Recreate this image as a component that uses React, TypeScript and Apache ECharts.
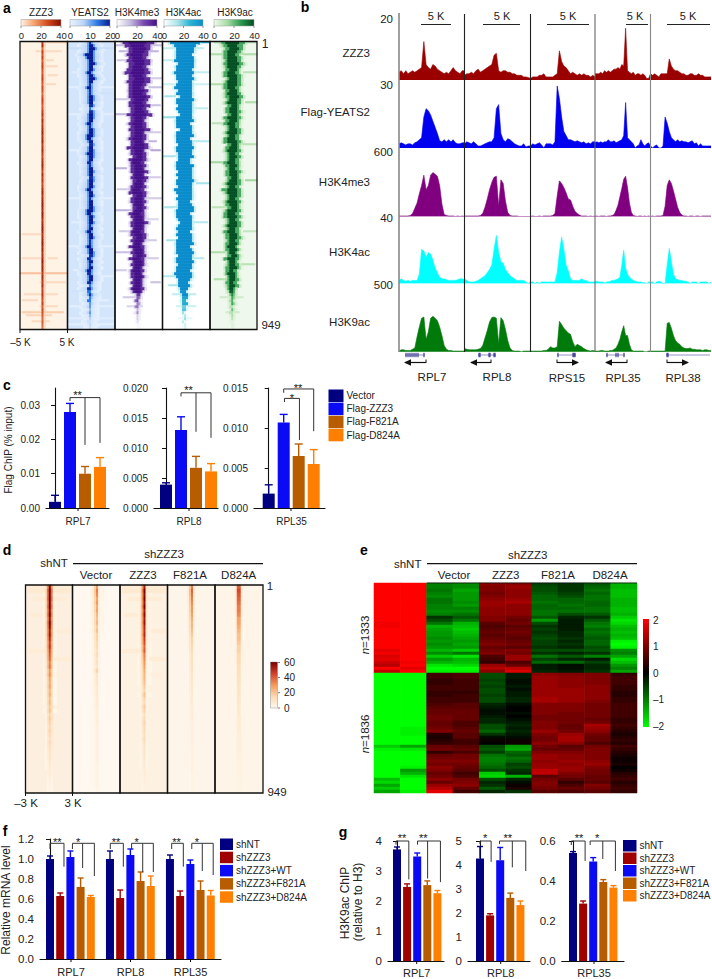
import React, { useEffect, useRef } from "react";
import * as echarts from "echarts";

const FONT = "Liberation Sans, Arial, sans-serif";
const INK = "#222";

// ---------- panel a: per-row half widths of the enrichment core (96 rows, top to bottom)
const aNames = ["ZZZ3", "YEATS2", "H3K4me3", "H3K4ac", "H3K9ac"];
const aScaleTicks = [[0, 20, 40], [0, 10, 20], [0, 20, 40], [0, 20, 40], [0, 20, 40]];
const zzz3Level = [30,34,22,30,26,30,24,28,30,26,24,28,30,26,24,28,26,22,26,30,28,24,26,30,32,28,34,30,32,34,36,32,34,36,30,32,34,30,28,32,34,36,32,28,34,30,32,28,30,34,36,32,34,36,38,36,34,38,36,32,34,36,38,36,32,34,36,38,34,36,32,34,36,38,34,36,34,30,34,32,30,34,28,30,32,28,26,30,24,28,26,24,22,24,22,20];
const yeats2Width = [3,4,5,4,6,5,4,5,3.5,4,3.5,4,5,3.5,3,3.5,3,3,3.5,4,3.5,3,2.2,3,3.5,4,3.5,3.5,3,3.5,4,5,3.5,3.5,3,3.5,4,5,3.5,3.5,3,3,3.5,4,3.5,3,3.5,3.5,4,4,3.5,3.5,3,3.5,3.5,4,5,3.5,4,3.5,3.5,3,3.5,4,3.5,3.5,3,3,3.5,3.5,4,3,3,3.5,3,3.5,4,3,3.5,3.5,3,2.2,3,2.2,3,2.2,2.2,1.8,1.8,1.4,1.8,1.4,1.1,1.4,1,0.8];
const k4me3Width = [16,13,11,10,11,9,12,10,9,11,13,9,10,12,9,8,10,9,11,8,9,10,8,9,12,8,7,9,8,10,7,8,9,7,8,11,7,8,6,9,7,8,7,9,6,8,7,6,8,7,9,6,7,8,6,7,6,8,7,6,9,7,6,7,8,6,7,5,8,6,7,6,8,6,7,5,7,6,7,5,6,5,7,5,2.5,2,2.2,1.6,1.8,1.2,1.5,0.8,0.8,0.5,0.4,0.4];
const k4acWidth = [15,11,9,9,8,9,10,8,9,8,10,8,9,7,8,9,7,8,6,9,8,7,8,7,6,8,9,7,8,6,8,9,7,8,7,9,8,7,8,6,7,9,8,7,8,7,9,8,7,9,8,7,8,6,7,8,9,7,8,7,6,7,8,6,8,7,8,9,7,8,9,7,8,9,7,8,7,9,8,6,5,6,4,3,3.4,2.6,2.2,2.4,1.6,1.8,1.2,1,1.2,0.8,0.6,0.5];
const k9acWidth = [12,10,9,9,8,9,8,10,8,7,8,9,7,8,9,8,7,8,9,7,8,6,7,8,6,9,7,8,6,7,8,6,7,9,6,7,8,6,7,6,8,7,6,8,7,6,7,8,6,9,8,7,6,8,7,6,8,7,9,6,7,8,6,8,7,8,6,7,6,7,5,6,7,5,6,7,5,6,5,6,5,6,4,3,2.4,2,1.8,2,1.4,1.6,1.4,1,0.8,0.6,0.5,0.4];
const rowShift = [0,0,1,0,-1,0,0,1,0,0,-1,0,1,0,0,-1,0,0,1,1,0,1,0,1,1,0,0,-1,0,1,0,0,-1,0,1,0,0,0,1,0,-1,0,0,1,0,1,1,0,0,-1,0,1,0,0,0,1,0,-1,0,0,1,0,0,-1,0,1,0,0,-1,0,0,1,-1,0,0,0,-1,-1,0,0,-1,0,-1,-1,0,0,-1,0,-1,0,-1,0,0,-1,0,0];
const zzz3Streaks = [[0,10,23,5],[3,8,20,4],[6,11,16,4],[8,12,18,4],[11,14,18,4],[14,13,17,4],[64,1,11,4],[72,1,12,4],[72,14,18,4],[77,0,23,8],[80,10,22,4],[84,2,18,4],[86,1,8,4],[88,10,18,4],[90,1,21,6],[91,3,15,5],[93,6,14,4]];
const yeats2Streaks = [[2,0,23,10],[10,2,8,3],[15,0,23,2],[17,16,22,8],[24,0,23,2],[36,1,8,2],[44,15,22,7],[52,0,23,2],[60,2,9,2],[68,0,23,2],[76,3,10,2],[78,14,22,2],[83,2,10,8],[86,16,20,2],[88,1,22,2],[92,0,23,3],[94,0,23,2]];
const k4me3Streaks = [[1,0,23,12],[3,2,21,14],[6,1,8,10],[12,15,23,10],[15,17,23,12],[19,0,7,10],[21,16,22,12],[24,0,9,14],[30,16,22,10],[33,17,20,14],[36,18,22,16],[42,0,5,14],[45,15,22,10],[49,1,7,10],[52,16,23,10],[56,0,9,14],[59,16,21,8],[63,2,8,10],[66,15,20,10],[70,0,7,12],[72,15,21,10],[76,0,5,10],[80,18,22,12],[85,4,10,10],[88,6,13,8]];
const k4acStreaks = [[0,4,23,30],[2,0,20,10],[6,0,7,10],[10,16,23,10],[14,0,23,8],[18,1,6,14],[22,16,22,10],[25,0,8,16],[33,15,23,12],[38,0,6,14],[47,17,23,14],[55,1,9,14],[60,16,22,12],[66,2,7,14],[72,15,20,12],[78,0,8,12],[81,3,9,14],[84,5,16,10],[88,7,16,8],[92,8,14,4]];
const k9acStreaks = [[0,2,23,10],[4,0,23,12],[10,17,23,10],[14,0,7,12],[20,18,23,12],[27,1,8,10],[34,16,23,10],[40,0,6,14],[46,18,23,14],[55,1,8,10],[63,17,23,8],[70,0,7,12],[74,16,22,10],[79,2,8,12],[85,5,16,6],[90,8,14,6]];
const aBg = ["#fff3e6", "#d3e5fb", "#ffffff", "#ffffff", "#eff8ec"];
const aRamp = [
  ["#fff3e6", "#f6a06a", "#d24a1e", "#8a0c00"],
  ["#eaf3ff", "#bcd6f8", "#2f7fe6", "#0a1c96"],
  ["#ffffff", "#c4bade", "#7a4bb0", "#451088"],
  ["#ffffff", "#aee6ea", "#2ab4d4", "#0a8ccc"],
  ["#eff8ec", "#a8dca4", "#2f9a50", "#004d20"],
];

// ---------- panel b: signal tracks, in each track's own units (30 bins per gene)
const bTrackNames = ["ZZZ3", "Flag-YEATS2", "H3K4me3", "H3K4ac", "H3K9ac"];
const bTrackMax = [20, 30, 600, 40, 500];
const bTrackColors = ["#9b0000", "#0000f0", "#800080", "#00ffff", "#007a0a"];
const bGenes = ["RPL7", "RPL8", "RPS15", "RPL35", "RPL38"];
const zzz3Track = [
  [2.5,3,2,3,2,2.5,3,2.5,3,3.5,4,12.4,5,4,3.5,5,4.5,3.5,3,2.5,2,2.5,2,3,4,3,2.5,2,3,3],
  [1.5,2,2,2.5,2,3,3.5,2.5,3,3.5,4,4.5,5,8,8.6,3,2.5,3,3,2.5,2.5,2,2,1.5,1.5,1.5,1,1,0.8,0.5],
  [0.5,1,1,1,1.5,1.5,2,1,1,1,1,1.5,2,9.4,6,4.5,4,3,2,2.5,2,1.5,2,1.5,2,1.5,1.5,1,1.5,1],
  [2,2,2,2.5,2,3,2.5,3,2.5,3,3.5,3.5,4,3.5,5,4.5,16.7,3,2.5,2,2.5,1.5,2,2,1.5,2,1.5,0.5,0.5,2],
  [2,1.5,2,1.5,1,2,2,2,2,6.8,4.5,3.5,3,3,2.5,2,2,1.5,1.5,2,2,1.5,1.5,2,1.5,1.5,1,1,1,1],
];
const yeats2Track = [
  [2,2.5,2,1.5,2,2,1.5,2.5,3,4,5,15,19,18,16,13,10,7,3.5,3,4,3,4,3,4,2.5,2,2,2.5,2.5],
  [2,3,2.5,2,3,2,1,1,1.5,2,2.5,3,3,5,19,21,7,4,3,4.5,4,3,2,1.5,1,1,2,0.5,1,1],
  [1,2,1.5,2,2.5,1.5,0,2,2,2,1.5,3,30,24,15,8,6,4,4,3.5,3,3.5,3,2.5,3,2,2.5,2,3,3],
  [2.5,3,2.5,3,2.5,3,3,4,3,3,3.5,2.5,3,3.5,4,6,22,5,4,3,2,0,1,1.5,4,2,1,2,2.5,1],
  [1,0,1,1.5,0,0,1,15,12,8,5,4,3,4,3,3.5,3,3,2.5,3,3.5,2,2.5,1,2,1,1,1,1,1],
];
const k4me3Track = [
  [5,5,5,5,5,10,30,80,130,220,300,400,260,300,400,425,410,390,300,120,20,10,5,5,5,0,5,0,5,0],
  [5,5,5,5,5,5,5,10,30,90,170,260,330,380,390,100,355,320,150,40,10,5,5,5,0,0,0,0,0,0],
  [0,5,0,0,5,0,5,5,5,5,10,30,200,345,320,280,230,170,160,100,50,30,15,5,5,5,0,5,0,5],
  [0,5,0,5,5,5,0,5,5,10,20,60,110,190,270,360,390,280,130,40,10,5,0,5,5,0,5,0,5,0],
  [0,5,0,5,5,5,10,100,300,355,320,250,170,90,40,15,5,5,0,5,5,0,5,5,0,5,5,5,5,5],
];
const k4acTrack = [
  [2,3,2,1.5,2,1.5,2,2,2,6,22,21,17,20,19,15,10,7,4,3,3,2.5,2,2,2,2,2.5,3,3,2.5],
  [3,2,1,1,1,1.5,2,3,4,5,7,9,12,22,31,20,14,13,9,7,5,4,3,2,2,2,2,1,0,1],
  [1,1,0,1,0,1,1,1,1,1,1,1,7,20,30,22,12,8,3,2,2,2,2,3,2,2,1,1,1,1],
  [1,1.5,1,1,1,0.5,1,1,1.5,2,2,2.5,3,4,12,21.5,10,6,4,3,2,1.5,1,1,1,0.5,0.5,0,1,1],
  [1,1,0,1,1.5,1,0,0,12,22.6,14,6,3,2.5,2,2,1.5,1.5,1,0,1,1,1,0,1,1,1,1,0,1],
];
const k9acTrack = [
  [5,15,15,10,10,10,20,30,120,200,270,280,100,160,270,285,270,250,200,130,50,20,10,10,5,5,5,5,5,5],
  [25,20,15,15,15,15,20,25,50,110,170,240,275,280,270,64,275,250,180,90,30,10,5,5,5,0,5,5,5,5],
  [5,5,5,5,5,5,10,10,20,40,30,30,40,245,220,190,170,150,140,80,40,60,50,40,25,15,10,5,10,5],
  [5,5,5,10,10,5,5,5,10,10,20,30,60,100,160,210,130,130,60,15,5,5,5,5,5,5,0,0,5,5],
  [5,5,5,5,5,5,5,5,230,235,190,130,90,70,60,40,30,25,25,30,20,20,15,15,15,10,15,15,10,10],
];
const bTracks = [zzz3Track, yeats2Track, k4me3Track, k4acTrack, k9acTrack];

// ---------- panel c
const cColors = ["#000080", "#0a0af5", "#b85c00", "#ff8000"];
const cConditions = ["Vector", "Flag-ZZZ3", "Flag-F821A", "Flag-D824A"];
const cRpl7 = [0.0018, 0.028, 0.01, 0.012];
const cRpl7Err = [0.0037, 0.0305, 0.0121, 0.0147];
const cRpl8 = [0.0039, 0.013, 0.0067, 0.0061];
const cRpl8Err = [0.0042, 0.0152, 0.0086, 0.0074];
const cRpl35 = [0.0018, 0.0107, 0.0065, 0.0055];
const cRpl35Err = [0.0029, 0.0117, 0.008, 0.0073];

// ---------- panel d: peak signal per row (52 rows)
const dNames = ["shNT", "Vector", "ZZZ3", "F821A", "D824A"];
const dShNT = [50,58,55,58,52,56,50,54,48,52,50,46,48,44,40,42,38,36,34,30,32,26,28,24,22,24,20,22,18,20,16,18,14,16,14,12,14,12,10,12,10,9,8,8,7,6,5,5,4,3,3,2];
const dVector = [26,30,28,24,26,22,24,20,18,20,16,18,14,14,12,12,10,12,9,10,8,14,8,7,8,6,6,6,5,5,5,4,4,4,4,3,3,3,3,3,3,3,3,3,3,2,2,2,2,2,2,1];
const dZZZ3 = [46,54,50,52,48,52,46,50,46,48,44,42,44,40,38,34,36,30,28,26,24,22,20,20,18,16,14,18,14,12,16,14,10,12,14,12,12,10,12,10,8,8,8,7,6,6,5,5,4,4,3,3];
const dF821A = [30,34,32,30,28,26,26,24,22,20,20,18,16,14,14,12,12,10,10,10,9,9,8,8,8,7,7,6,6,6,5,5,5,5,4,4,4,4,4,4,3,3,3,3,3,3,3,2,2,2,2,2];
const dD824A = [34,38,36,34,32,30,30,28,24,24,22,20,18,18,16,14,14,12,12,12,10,10,10,9,9,8,8,8,7,7,6,6,6,5,5,5,5,4,4,4,4,4,3,3,3,3,3,3,2,2,2,2];
const dPeaks = [dShNT, dVector, dZZZ3, dF821A, dD824A];
const dBg = ["#fcefdf", "#fef8f0", "#fdf1e2", "#fef5ea", "#fef4e8"];
const dStreaks = [[0,0,23,5],[1,1,22,6],[3,4,20,5],[7,2,8,5],[11,16,22,5],[16,1,9,5],[18,15,22,5],[22,16,20,4]];

// ---------- panel e: z-scores x10, 30 + 40 rows, one list per lane
const eCol0 = [20,20,20,20,20,20,20,20,20,20,20,20,20,19,19,20,20,20,20,20,20,20,18,19,17,18,16,14,20,15, -20,-20,-20,-20,-20,-20,-20,-20,-20,-20,-20,-20,-20,-20,-20,-20,-20,-20,-20,-20,-20,-20,-20,-20,-16,-19,-20,-20,-20,-20,-20,-20,-20,-20,-20,-15,-17,-13,-16,-13];
const eCol1 = [20,20,20,20,20,20,20,20,20,20,20,20,20,20,20,20,20,20,20,20,20,20,20,20,20,20,19,20,18,20, -20,-20,-20,-20,-20,-20,-20,-20,-20,-20,-20,-20,-20,-20,-20,-20,-20,-20,-19,-19,-19,-20,-20,-20,-13,-18,-20,-20,-20,-20,-20,-19,-12,-14,-18,-20,-20,-20,-20,-19];
const eCol2 = [-10,-10,-9,-10,-11,-9,-9,-10,-10,-11,-10,-4,-6,-9,-14,-13,-12,-12,-11,-12,-11,-12,-14,-11,-16,-12,-14,-18,-20,-19, 5,5,4,4,5,5,4,4,5,5,6,7,8,8,9,9,8,8,9,10,3,2,3,4,8,9,4,8,9,10,9,11,10,8,9,11,8,12,14,18];
const eCol3 = [-11,-11,-13,-12,-12,-12,-11,-12,-10,-11,-9,-7,-9,-14,-15,-16,-15,-14,-13,-12,-13,-12,-16,-9,-18,-14,-15,-17,-20,-19, 6,6,5,5,5,5,4,5,5,5,7,7,8,8,8,8,6,6,7,8,7,7,5,5,7,8,6,9,9,10,9,8,7,5,6,9,10,11,8,5];
const eCol4 = [11,10,10,9,10,11,12,12,11,11,11,10,10,7,6,7,8,7,8,9,10,8,9,10,6,5,4,12,14,11, -6,-6,-5,-6,-5,-6,-6,-5,-6,-6,-3,-2,-1,-1,-2,-3,-3,-6,-6,-8,-4,-1,1,0,-6,-7,-5,-9,-10,-10,-9,-8,-6,-16,-17,-6,-3,-4,-7,-3];
const eCol5 = [11,12,11,11,11,12,13,11,11,11,11,9,8,9,7,8,9,8,7,8,9,7,10,9,12,12,6,8,15,17, -2,-2,-1,-1,-2,-1,-2,-2,-3,-3,-1,0,0,-1,0,-1,-2,-3,-2,-3,-2,-1,1,1,-12,-13,-8,-7,-9,-8,-5,-6,-4,-3,-14,-3,-1,1,2,-4];
const eCol6 = [-5,-6,-6,-7,-8,-8,-9,-8,-8,-9,-9,-7,-12,-6,-4,-5,-4,-5,-6,-5,-5,-4,-6,-4,-9,-5,-8,-2,-2,-3, 11,12,12,12,12,12,12,12,13,13,10,10,10,10,9,9,10,10,10,12,10,9,9,11,9,8,10,12,12,11,12,12,15,15,7,9,10,10,9,7];
const eCol7 = [-4,-4,-4,-5,-6,-8,-8,-9,-8,-9,-6,-3,-2,-2,-2,-2,-3,-3,-4,-3,-4,-3,-6,-3,-7,-3,-8,-1,-1,-2, 10,11,11,11,11,12,12,12,12,12,10,10,10,9,9,9,9,8,8,9,12,13,13,11,7,8,10,11,11,12,11,12,12,10,9,7,4,6,8,6];
const eCol8 = [-7,-8,-9,-8,-9,-9,-8,-8,-9,-9,-7,-4,-7,-9,-10,-8,-9,-8,-7,-8,-8,-6,-7,-4,-10,-2,-5,-3,-3,-4, 10,10,10,10,11,11,11,11,11,10,9,9,9,9,9,8,9,13,12,11,9,8,8,6,9,10,10,10,10,11,12,10,9,9,8,8,7,10,9,7];
const eCol9 = [-14,-14,-15,-15,-15,-14,-14,-14,-15,-15,-14,-16,-18,-17,-15,-14,-15,-14,-15,-19,-20,-19,-11,-10,-13,-17,-15,-12,-10,-13, 4,5,5,5,4,4,3,3,4,4,5,5,5,5,5,4,4,5,4,3,2,3,4,3,5,4,3,2,1,1,2,0,1,3,4,5,3,4,5,4];
const eLanes = [eCol0, eCol1, eCol2, eCol3, eCol4, eCol5, eCol6, eCol7, eCol8, eCol9];

// ---------- panels f, g
const fgColors = ["#000080", "#a00000", "#0a0af5", "#b85c00", "#ff8000"];
const fgConditions = ["shNT", "shZZZ3", "shZZZ3+WT", "shZZZ3+F821A", "shZZZ3+D824A"];
const fGroups = ["RPL7", "RPL8", "RPL35"];
const fMrna = [[1.0, 0.63, 1.02, 0.72, 0.62], [1.0, 0.61, 1.04, 0.78, 0.73], [1.0, 0.63, 0.95, 0.69, 0.635]];
const fMrnaErr = [[1.03, 0.66, 1.08, 0.81, 0.635], [1.08, 0.69, 1.1, 0.87, 0.83], [1.04, 0.68, 0.99, 0.78, 0.685]];
const gRpl7 = [3.72, 2.47, 3.48, 2.53, 2.26];
const gRpl7Err = [3.8, 2.57, 3.6, 2.67, 2.35];
const gRpl8 = [4.27, 1.9, 4.2, 2.63, 2.33];
const gRpl8Err = [4.77, 1.97, 4.73, 2.83, 2.5];
const gRpl35 = [0.54, 0.287, 0.497, 0.395, 0.367];
const gRpl35Err = [0.547, 0.3, 0.517, 0.407, 0.377];

type Bracket = { top: number; lead: [number, number]; drops: [number, number][]; star: string; starX: number; starUp: number };

function buildOption() {
  const grid: any[] = [], xAxis: any[] = [], yAxis: any[] = [], series: any[] = [], visualMap: any[] = [], g: any[] = [], legend: any[] = [];

  const T = (text: string, x: number, y: number, o: any = {}) =>
    g.push({ type: "text", z: 60, silent: true, x, y, rotation: o.rot || 0, style: { text, x: 0, y: 0, fill: o.fill || INK, font: `${o.italic ? "italic " : ""}${o.bold ? "bold " : ""}${o.size || 10}px ${FONT}`, textAlign: o.align || "center", textVerticalAlign: "middle", rich: o.rich } });
  const L = (x1: number, y1: number, x2: number, y2: number, stroke = INK, lineWidth = 1) =>
    g.push({ type: "line", z: 60, silent: true, shape: { x1, y1, x2, y2 }, style: { stroke, lineWidth } });
  const addGrid = (left: number, top: number, width: number, height: number, bg?: string) => {
    grid.push({ left, top, width, height, show: !!bg, backgroundColor: bg || "transparent", borderWidth: 0, containLabel: false });
    return grid.length - 1;
  };
  const hiddenCat = (n: number, i: number, inverse = false) => ({ type: "category", gridIndex: i, data: Array.from({ length: n }, (_, k) => k), show: false, inverse, boundaryGap: true });

  const heat = (idx: number, data: any[], min: number, max: number, colors: string[]) => {
    series.push({ type: "heatmap", xAxisIndex: idx, yAxisIndex: idx, data, silent: true, itemStyle: { borderWidth: 0 }, progressive: 0 });
    visualMap.push({ type: "continuous", show: false, seriesIndex: series.length - 1, dimension: 2, min, max, inRange: { color: colors } });
  };

  // ---- panel a: 192 half rows, so that a stray streak is only one half row thick
  const aEdges = [20, 67.5, 115, 162.5, 210, 257];
  const aCols = 24, aRows = 96, aTop = 41.5, aH = 288;
  const aCenters = [23.5, 23, 23.5, 22.4, 22.8];
  const aWidths = [null, yeats2Width, k4me3Width, k4acWidth, k9acWidth];
  const aStreaks = [zzz3Streaks, yeats2Streaks, k4me3Streaks, k4acStreaks, k9acStreaks];
  const aTitleX = [41, 90, 137, 183.5, 235];
  const aBar = [[21, 61], [70, 110], [117, 157], [164, 203], [214, 254]];
  const aEdgeFade = [1, 0.55, 0.85, 1, 0.6];
  aNames.forEach((name, p) => {
    const w = aEdges[p + 1] - aEdges[p];
    const idx = addGrid(aEdges[p], aTop, w, aH, aBg[p]);
    xAxis.push(hiddenCat(aCols, idx));
    yAxis.push(hiddenCat(aRows * 2, idx, true));
    const bin = w / aCols;
    const cells: any[] = [];
    const streakAt = new Map<string, number>();
    aStreaks[p].forEach(([r, a, b, v]) => { for (let c = a; c <= b; c++) streakAt.set(`${r}:${c}`, v); });
    for (let r = 0; r < aRows; r++) for (let c = 0; c < aCols; c++) {
      const d = Math.abs((c + 0.5) * bin - aCenters[p] - rowShift[r] * bin * (p === 0 ? 0 : 0.6));
      let v = 0;
      if (p === 0) {
        const lv = zzz3Level[r];
        v = d < 1.2 ? lv : d < 2.7 ? lv * 0.14 : 0;
      } else {
        const wd = (aWidths[p] as number[])[r] ?? 0.4;
        const level = 40 * Math.min(1, wd / 3.2);
        const halo = p === 1 ? 9 : 3;
        v = d <= wd * 0.55 ? level : d <= wd ? level * aEdgeFade[p] : d <= wd + halo ? level * 0.32 * (1 - (d - wd) / halo) : 0;
      }
      const s = streakAt.get(`${r}:${c}`) || 0;
      const v0 = Math.max(v, s);
      if (v0 > 1) cells.push([c, r * 2, v0]);
      if (v > 1) cells.push([c, r * 2 + 1, v]);
    }
    heat(idx, cells, 0, 40, aRamp[p]);
    g.push({ type: "rect", z: 60, silent: true, shape: { x: aEdges[p], y: aTop, width: w, height: aH }, style: { fill: "none", stroke: "#111", lineWidth: 1.3 } });
    T(name, aTitleX[p], 12, { size: 10 });
    const [b0, b1] = aBar[p];
    g.push({ type: "rect", z: 60, silent: true, shape: { x: b0, y: 19.5, width: b1 - b0, height: 6.5 }, style: { fill: new echarts.graphic.LinearGradient(0, 0, 1, 0, aRamp[p].map((color, i) => ({ offset: i / (aRamp[p].length - 1), color }))), stroke: "#999", lineWidth: 0.5 } });
    aScaleTicks[p].forEach((t, i) => {
      const x = b0 + ((b1 - b0) * i) / 2;
      L(x, 26, x, 28, "#666", 0.7);
      T(String(t), x + 0.5, 35, { size: 9.5 });
    });
  });
  T("1", 265, 44, { size: 12 });
  T("949", 271, 325, { size: 11.5 });
  T("–5 K", 20.5, 342, { size: 10 });
  T("5 K", 67, 342, { size: 10 });
  L(20, 330, 20, 333, "#111"); L(67.5, 330, 67.5, 333, "#111");

  // ---- panel b
  const bEdges = [399, 464.5, 530.5, 595, 650.5, 711];
  const bBase = [80, 148, 216.5, 283.5, 351.7];
  const bScaleLab = ["20", "30", "600", "40", "500"];
  const bScaleY = [19, 85, 152, 218, 285];
  const bLabY = [53, 112, 182, 252, 322];
  bTrackNames.forEach((name, row) => {
    T(name, 370, bLabY[row], { align: "right", size: 11.5 });
    T(bScaleLab[row], 393, bScaleY[row], { align: "right", size: 11.5 });
    bGenes.forEach((_, col) => {
      const idx = addGrid(bEdges[col], bBase[row] - 62, bEdges[col + 1] - bEdges[col], 62);
      xAxis.push({ ...hiddenCat(30, idx), boundaryGap: false });
      yAxis.push({ type: "value", gridIndex: idx, min: 0, max: bTrackMax[row], show: false, splitLine: { show: false } });
      series.push({ type: "line", xAxisIndex: idx, yAxisIndex: idx, data: bTracks[row][col], symbol: "none", silent: true, lineStyle: { color: bTrackColors[row], width: 0.6 }, itemStyle: { color: bTrackColors[row] }, areaStyle: { color: bTrackColors[row], opacity: 1, origin: "start" } });
    });
  });
  const bSepColor = ["#888", "#222", "#222", "#666", "#888"];
  bEdges.slice(0, 5).forEach((x, i) => L(x, i === 0 ? 13 : 14, x, 352, bSepColor[i], i === 0 ? 1.6 : 1.1));
  const scaleBars = [[421, 451], [483, 520], [547, 589], [626, 648], [667, 710]];
  const scaleX = [436, 502, 568, 635, 688];
  scaleBars.forEach(([a, b], i) => { L(a, 24.5, b, 24.5, "#222", 1); T("5 K", scaleX[i], 15.5, { size: 11 }); });
  const bGeneX = [432, 497, 567, 623, 683];
  const arrows: [number, number][] = [[426, 405], [491, 471], [557, 578], [627, 606], [667, 688]];
  const genes: [number, number, number[]][] = [
    [405, 425, [406, 408, 410, 412, 414, 416, 418, 424]],
    [478, 496, [479, 480, 489, 490, 494, 495]],
    [557, 576, [558, 573, 574, 575]],
    [606, 625, [607, 616, 618, 624]],
    [666, 710, [667, 668]],
  ];
  genes.forEach(([a, b, ex]) => {
    L(a, 355, b, 355, "#4a4a9a", 0.6);
    ex.forEach((x) => L(x, 352.8, x, 357.2, "#1a1a80", 1));
  });
  arrows.forEach(([a, b], i) => {
    L(a, 359.5, a, 363, "#111", 1);
    L(a, 362.5, b, 362.5, "#111", 1.2);
    const s = b > a ? 1 : -1;
    g.push({ type: "polygon", z: 60, silent: true, shape: { points: [[b + s, 362.5], [b - 6 * s, 359.3], [b - 6 * s, 365.7]] }, style: { fill: "#111" } });
    T(bGenes[i], bGeneX[i], i < 2 ? 377 : 378, { size: 11.5 });
  });

  // ---- bar panels
  const barPanel = (cfg: { left: number; right: number; c0: number; step: number; top: number; bottom: number; ymax: number; interval: number; dec: number; labelSize: number; xs: number[]; vals: number[]; errs: number[]; colorsIdx: number[]; colors: string[]; names: string[]; barW: number; brackets: Bracket[]; hideMax?: boolean; cap?: number }) => {
    const idx = addGrid(cfg.left, cfg.top, cfg.right - cfg.left, cfg.bottom - cfg.top);
    xAxis.push({ type: "value", gridIndex: idx, min: (cfg.left - cfg.c0) / cfg.step, max: (cfg.right - cfg.c0) / cfg.step, axisLine: { show: true, onZero: false, lineStyle: { color: "#111", width: 1.1 } }, axisTick: { show: false }, axisLabel: { show: false }, splitLine: { show: false } });
    yAxis.push({ type: "value", gridIndex: idx, min: 0, max: cfg.ymax, interval: cfg.interval, axisLine: { show: true, lineStyle: { color: "#111", width: 1.1 } }, axisTick: { show: true, length: 4, lineStyle: { color: "#111" } }, splitLine: { show: false }, axisLabel: { fontFamily: FONT, fontSize: cfg.labelSize, color: INK, margin: 6, showMaxLabel: cfg.hideMax ? false : true, formatter: (v: number) => v.toFixed(cfg.dec) } });
    cfg.names.forEach((name, ci) => {
      const pts = cfg.xs.map((x, i) => (cfg.colorsIdx[i] === ci ? [x, cfg.vals[i]] : null)).filter(Boolean);
      series.push({ type: "bar", name, xAxisIndex: idx, yAxisIndex: idx, barWidth: cfg.barW, barGap: "-100%", data: pts, silent: true, itemStyle: { color: cfg.colors[ci] } });
    });
    const errData = cfg.xs.map((x, i) => [x, cfg.vals[i], cfg.errs[i], cfg.colorsIdx[i]]);
    const cap = cfg.cap ?? 3;
    series.push({
      type: "custom", xAxisIndex: idx, yAxisIndex: idx, silent: true, clip: false, data: errData, encode: { x: 0, y: [1, 2] },
      renderItem: (_: any, api: any) => {
        const a = api.coord([api.value(0), api.value(1)]);
        const b = api.coord([api.value(0), api.value(2)]);
        const stroke = cfg.colors[api.value(3)];
        const style = { stroke, lineWidth: 1.4, fill: null };
        return { type: "group", children: [
          { type: "line", shape: { x1: a[0], y1: a[1], x2: b[0], y2: b[1] }, style },
          { type: "line", shape: { x1: b[0] - cap, y1: b[1], x2: b[0] + cap, y2: b[1] }, style },
        ] };
      },
    });
    series.push({
      type: "custom", xAxisIndex: idx, yAxisIndex: idx, silent: true, clip: false, z: 5, data: cfg.brackets.map((br) => [br.lead[0], br.top]), encode: { x: 0, y: 1 },
      renderItem: (params: any, api: any) => {
        const br = cfg.brackets[params.dataIndex];
        const style = { stroke: "#333", lineWidth: 1, fill: null };
        const last = br.drops[br.drops.length - 1][0];
        const pA = api.coord([br.lead[0], br.lead[1]]);
        const pB = api.coord([br.lead[0], br.top]);
        const pC = api.coord([last, br.top]);
        const kids: any[] = [{ type: "polyline", shape: { points: [pA, pB, pC] }, style }];
        br.drops.forEach(([x, y]) => {
          const p = api.coord([x, br.top]);
          const q = api.coord([x, y]);
          kids.push({ type: "line", shape: { x1: p[0], y1: p[1], x2: q[0], y2: q[1] }, style });
        });
        const s = api.coord([br.starX, br.top]);
        kids.push({ type: "text", style: { text: br.star, x: s[0], y: s[1] - br.starUp + 2.5, textAlign: "center", textVerticalAlign: "middle", font: `11px ${FONT}`, fill: "#111", stroke: "none" } });
        return { type: "group", children: kids };
      },
    });
  };

  const idxs4 = [0, 1, 2, 3];
  const cBase = { top: 388, bottom: 508, step: 15, dec: 3, labelSize: 10, colors: cColors, names: cConditions, barW: 12, xs: idxs4, colorsIdx: idxs4, cap: 4 };
  barPanel({ ...cBase, left: 46, right: 109, c0: 55, ymax: 0.035, interval: 0.01, dec: 2, hideMax: true, vals: cRpl7, errs: cRpl7Err, brackets: [{ top: 0.0322, lead: [1, 0.0312], drops: [[2, 0.0184], [3, 0.019]], star: "**", starX: 1.5, starUp: 5 }] });
  barPanel({ ...cBase, left: 154, right: 218, c0: 166, ymax: 0.02, interval: 0.005, vals: cRpl8, errs: cRpl8Err, brackets: [{ top: 0.0192, lead: [1, 0.0186], drops: [[2, 0.0127], [3, 0.0117]], star: "**", starX: 1.5, starUp: 5 }] });
  barPanel({ ...cBase, left: 254, right: 325, c0: 268.7, ymax: 0.015, interval: 0.005, vals: cRpl35, errs: cRpl35Err, brackets: [
    { top: 0.01488, lead: [1, 0.0144], drops: [[3, 0.0096]], star: "**", starX: 1.95, starUp: 3 },
    { top: 0.0137, lead: [1.05, 0.01325], drops: [[2.05, 0.0085]], star: "*", starX: 1.55, starUp: 3 },
  ] });
  T("RPL7", 78, 521, { size: 10 }); T("RPL8", 189, 521, { size: 10 }); T("RPL35", 291.5, 521, { size: 10 });
  L(78, 508, 78, 511, "#111"); L(189, 508, 189, 511, "#111"); L(291, 508, 291, 511, "#111");
  T("Flag ChIP (% input)", 8, 450, { rot: Math.PI / 2, size: 10 });

  const fXs = [0, 1, 2, 3, 4, 5.88, 6.88, 7.88, 8.88, 9.88, 11.76, 12.76, 13.76, 14.76, 15.76];
  barPanel({
    left: 40, right: 221, c0: 50, step: 10.2, top: 839, bottom: 959, ymax: 1.2, interval: 0.2, dec: 1, labelSize: 11.5, colors: fgColors, names: fgConditions, barW: 8, cap: 3,
    xs: fXs, vals: fMrna.flat(), errs: fMrnaErr.flat(), colorsIdx: fXs.map((_, i) => i % 5),
    brackets: [
      { top: 1.157, lead: [0, 1.1], drops: [[1.37, 0.923]], star: "**", starX: 0.72, starUp: 4 },
      { top: 1.157, lead: [2.2, 1.1], drops: [[3.2, 0.91], [4.35, 0.83]], star: "*", starX: 2.75, starUp: 4 },
      { top: 1.157, lead: [5.91, 1.1], drops: [[7.19, 0.923]], star: "**", starX: 6.47, starUp: 4 },
      { top: 1.157, lead: [8.0, 1.1], drops: [[9.09, 0.87], [10.13, 0.87]], star: "*", starX: 8.5, starUp: 4 },
      { top: 1.157, lead: [11.93, 1.1], drops: [[13.07, 0.923]], star: "**", starX: 12.4, starUp: 4 },
      { top: 1.157, lead: [13.9, 1.1], drops: [[14.93, 0.88], [16.0, 0.84]], star: "*", starX: 14.4, starUp: 4 },
    ],
  });
  fGroups.forEach((name, i) => { const x = [71, 130.5, 190.5][i]; T(name, x, 972, { size: 11 }); L(x, 959, x, 962, "#111"); });
  T("Relative mRNA level", 5.5, 900, { rot: Math.PI / 2, size: 12 });

  const idxs5 = [0, 1, 2, 3, 4];
  const gBase = { top: 841, bottom: 961, step: 10.1, labelSize: 11.5, colors: fgColors, names: fgConditions, barW: 8, xs: idxs5, colorsIdx: idxs5, cap: 3 };
  barPanel({ ...gBase, left: 388, right: 444, c0: 397, ymax: 4, interval: 1, dec: 0, vals: gRpl7, errs: gRpl7Err, brackets: [
    { top: 4, lead: [-0.1, 3.88], drops: [[1.17, 2.72]], star: "**", starX: 0.5, starUp: 6 },
    { top: 4, lead: [2.03, 3.88], drops: [[3.03, 2.75], [4.3, 2.63]], star: "**", starX: 2.6, starUp: 6 },
  ] });
  barPanel({ ...gBase, left: 468, right: 530, c0: 480, ymax: 5, interval: 1, dec: 0, vals: gRpl8, errs: gRpl8Err, brackets: [
    { top: 5, lead: [0, 4.87], drops: [[1.1, 4.13]], star: "*", starX: 0.5, starUp: 6 },
    { top: 5, lead: [1.93, 4.87], drops: [[3.2, 3.9], [4.53, 3.75]], star: "**", starX: 2.75, starUp: 6 },
  ] });
  barPanel({ ...gBase, left: 561.7, right: 624, c0: 573, ymax: 0.6, interval: 0.2, dec: 1, vals: gRpl35, errs: gRpl35Err, brackets: [
    { top: 0.6, lead: [-0.17, 0.58], drops: [[1.2, 0.5]], star: "**", starX: 0.6, starUp: 6 },
    { top: 0.6, lead: [1.7, 0.58], drops: [[2.95, 0.51], [4.2, 0.45]], star: "*", starX: 2.4, starUp: 6 },
  ] });
  [[416.7, "RPL7"], [500.7, "RPL8"], [594, "RPL35"]].forEach(([x, name]: any) => { T(name, x, 972.5, { size: 11 }); L(x, 961, x, 964, "#111"); });
  T("H3K9ac ChIP", 345, 903, { rot: Math.PI / 2, size: 12 });
  T("(relative to H3)", 358, 902, { rot: Math.PI / 2, size: 12 });

  const mkLegend = (left: number, top: number, names: string[], w: number, h: number, gap: number, size: number) =>
    legend.push({ show: true, orient: "vertical", left, top, data: names.map((name) => ({ name, icon: "rect" })), itemWidth: w, itemHeight: h, itemGap: gap, selectedMode: false, padding: 0, textStyle: { fontFamily: FONT, fontSize: size, color: INK, padding: [0, 0, 0, -2] } });
  mkLegend(328.5, 389.5, cConditions, 15, 12.5, 0.6, 10);
  mkLegend(220, 838.5, fgConditions, 13, 11.5, 1.7, 10);
  mkLegend(623, 840, fgConditions, 13.5, 11.5, 1, 10);

  // ---- panel d
  const dEdges = [25.5, 72.5, 120, 167.5, 215, 263];
  const dRows = 52, dCols = 24, dTop = 585, dH = 208;
  const dRamp = ["#fff8ee", "#fcd9b0", "#f4995c", "#d0402a", "#7a0000"];
  const dLabX = [0, 96, 143, 190, 238.7];
  dNames.forEach((name, p) => {
    const w = dEdges[p + 1] - dEdges[p];
    const idx = addGrid(dEdges[p], dTop, w, dH, dBg[p]);
    xAxis.push(hiddenCat(dCols, idx));
    yAxis.push(hiddenCat(dRows, idx, true));
    const bin = w / dCols;
    const cells: any[] = [];
    for (let r = 0; r < dRows; r++) for (let c = 0; c < dCols; c++) {
      const d = Math.abs((c + 0.5) * bin - 24);
      const pk = dPeaks[p][r];
      let v = d < 1.2 ? pk : d < 2.7 ? pk * 0.55 : d < 4.2 ? pk * 0.16 : d < 7 ? pk * 0.05 : 0;
      if (p === 0 || p === 2) dStreaks.forEach(([sr, a, b, sv]) => { if (sr === r && c >= a && c <= b) v = Math.max(v, sv); });
      if (v > 0.8) cells.push([c, r, v]);
    }
    heat(idx, cells, 0, 52, dRamp);
    g.push({ type: "rect", z: 60, silent: true, shape: { x: dEdges[p], y: dTop, width: w, height: dH }, style: { fill: "none", stroke: "#111", lineWidth: 1.3 } });
    if (p > 0) T(name, dLabX[p], 575, { size: 11.5 });
  });
  T("shNT", 54, 563, { size: 11.5 });
  T("shZZZ3", 164, 554, { size: 11.5 });
  L(73, 563.7, 263, 563.7, "#111", 1.3);
  T("1", 270, 586, { size: 11.5 });
  T("949", 277, 792, { size: 11.5 });
  T("–3 K", 26, 803, { size: 11.5 });
  T("3 K", 73, 803, { size: 11.5 });
  L(25.5, 793, 25.5, 796, "#111"); L(72.5, 793, 72.5, 796, "#111");
  g.push({ type: "rect", z: 60, silent: true, shape: { x: 270.5, y: 662, width: 7, height: 46 }, style: { fill: new echarts.graphic.LinearGradient(0, 1, 0, 0, dRamp.map((color, i) => ({ offset: i / (dRamp.length - 1), color }))), stroke: "#777", lineWidth: 0.4 } });
  [[60, 662.5], [40, 677.5], [20, 692.7], [0, 708]].forEach(([v, y]) => { L(278, y, 280, y, "#444", 0.7); T(String(v), 284, y, { size: 10, align: "left" }); });

  // ---- panel e
  const eRampLow = ["#00ff00", "#000000", "#ff0000"];
  const eIdx = addGrid(374, 583, 263, 210);
  xAxis.push(hiddenCat(10, eIdx));
  yAxis.push(hiddenCat(70, eIdx, true));
  heat(eIdx, eLanes.flatMap((lane, c) => lane.map((v, r) => [c, r, v / 10])), -2, 2, eRampLow);
  T("shNT", 407.7, 564, { size: 11.5 });
  T("shZZZ3", 527.7, 555, { size: 11.5 });
  L(427, 563.7, 637, 563.7, "#111", 1.3);
  L(427, 583, 637, 583, "#111", 0.8);
  [["Vector", 454], ["ZZZ3", 505.7], ["F821A", 558], ["D824A", 610]].forEach(([n, x]: any) => T(n, x, 574.5, { size: 11.5 }));
  const italicN = { i: { fontStyle: "italic", fontSize: 11.5, fontFamily: FONT, fill: INK, color: INK }, r: { fontSize: 11.5, fontFamily: FONT, color: INK } };
  T("{i|n}{r|=1333}", 365, 635, { rot: Math.PI / 2, size: 11.5, rich: italicN });
  T("{i|n}{r|=1836}", 365, 734, { rot: Math.PI / 2, size: 11.5, rich: italicN });
  g.push({ type: "rect", z: 60, silent: true, shape: { x: 643, y: 619, width: 6, height: 108 }, style: { fill: new echarts.graphic.LinearGradient(0, 1, 0, 0, eRampLow.map((color, i) => ({ offset: i / 2, color }))) } });
  [["2", 620], ["1", 646], ["0", 673], ["–1", 699], ["–2", 726]].forEach(([n, y]: any) => T(n, 653, y, { size: 10, align: "left" }));

  // ---- panel letters
  const letters: [string, number, number][] = [["a", 7, 8], ["b", 305, 7], ["c", 7, 385], ["d", 7, 550], ["e", 364, 550], ["f", 5, 831], ["g", 343, 832]];
  letters.forEach(([s, x, y]) => T(s, x, y, { bold: true, size: 14, fill: "#000" }));

  return { animation: false, backgroundColor: "#fff", grid, xAxis, yAxis, series, visualMap, legend, graphic: { elements: g } };
}

export default function App() {
  const ref = useRef<HTMLDivElement>(null);
  useEffect(() => {
    document.body.style.margin = "0";
    const chart = echarts.init(ref.current!, undefined, { renderer: "svg" });
    chart.setOption(buildOption() as any);
    return () => chart.dispose();
  }, []);
  return <div ref={ref} style={{ width: 712, height: 979, background: "#fff" }} />;
}
